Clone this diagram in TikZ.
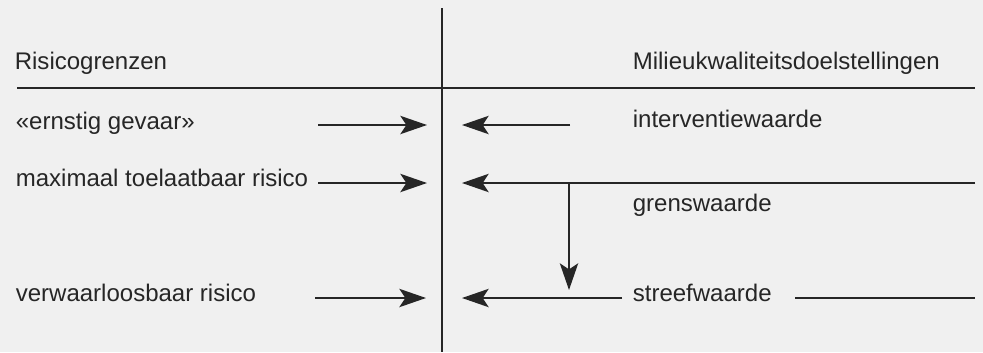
\documentclass[tikz,border=0pt]{standalone}
\usepackage{fontspec}
\setmainfont{Liberation Sans}
\usetikzlibrary{arrows.meta}

\begin{document}
\begin{tikzpicture}[x=0.03cm, y=-0.03cm, line width=1.4pt, color=black!85,
    lbl/.style={anchor=mid west, inner sep=0pt, font=\fontsize{20.5}{24}\selectfont},
    tip/.style={-{Stealth[length=0.8cm, width=0.55cm, inset=0.18cm]}}]
        \fill [black!6] (0, 0) rectangle (983, 352);
        \useasboundingbox (0, 0) rectangle (983, 352);

        % cross
        \coordinate (top) at (442, 8);
        \coordinate (bot) at (442, 352);
        \coordinate (hl) at (17, 88);
        \coordinate (hr) at (975, 88);
        \draw (top) -- (bot);
        \draw (hl) -- (hr);

        \node [lbl] (risico) at (14, 66) {Risicogrenzen};
        \node [lbl] (milieu) at (632, 66) {Milieukwaliteitsdoelstellingen};

        % ernstig gevaar / interventiewaarde
        \node [lbl] (ernstig) at (15, 126) {«ernstig gevaar»};
        \node [lbl] (interventie) at (632, 124) {interventiewaarde};
        \coordinate (ea) at (318, 125);
        \coordinate (eb) at (427, 125);
        \coordinate (ia) at (570, 125);
        \coordinate (ib) at (462, 125);
        \draw [tip] (ea) -- (eb);
        \draw [tip] (ia) -- (ib);

        % maximaal toelaatbaar risico / grenswaarde
        \node [lbl] (mtr) at (15, 183) {maximaal toelaatbaar risico};
        \node [lbl] (grens) at (632, 208) {grenswaarde};
        \coordinate (ma) at (318, 183);
        \coordinate (mb) at (427, 183);
        \coordinate (ga) at (975, 183);
        \coordinate (gb) at (462, 183);
        \coordinate (gc) at (569, 183);
        \coordinate (gd) at (569, 290);
        \draw [tip] (ma) -- (mb);
        \draw [tip] (ga) -- (gb);
        \draw [tip] (gc) -- (gd);

        % verwaarloosbaar risico / streefwaarde
        \node [lbl] (vr) at (15, 298) {verwaarloosbaar risico};
        \node [lbl] (streef) at (632, 298) {streefwaarde};
        \coordinate (va) at (315, 298);
        \coordinate (vb) at (426, 298);
        \coordinate (sa) at (622, 298);
        \coordinate (sb) at (462, 298);
        \coordinate (sc) at (795, 298);
        \coordinate (sd) at (975, 298);
        \draw [tip] (va) -- (vb);
        \draw [tip] (sa) -- (sb);
        \draw (sc) -- (sd);
     \end{tikzpicture}
\end{document}
